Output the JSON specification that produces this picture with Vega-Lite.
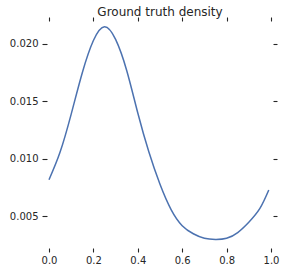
{
  "$schema": "https://vega.github.io/schema/vega-lite/v6.json",
  "autosize": {"type": "none"},
  "padding": {"left": 49, "top": 21, "right": 16, "bottom": 24},
  "width": 222,
  "height": 227,
  "background": "white",
  "config": {
    "view": {"stroke": null},
    "font": "DejaVu Sans",
    "axis": {
      "domain": false,
      "grid": false,
      "tickColor": "#262626",
      "tickWidth": 1.1,
      "tickSize": 4,
      "labelColor": "#262626",
      "labelFont": "DejaVu Sans",
      "labelFontSize": 10,
      "labelFlush": false,
      "title": null
    }
  },
  "title": {
    "text": "Ground truth density",
    "font": "DejaVu Sans",
    "fontSize": 12,
    "fontWeight": "normal",
    "color": "#262626",
    "anchor": "middle",
    "frame": "group",
    "baseline": "alphabetic",
    "offset": 4,
    "dy": 16
  },
  "data": {
    "values": [
      {"x": 0.0, "density": 0.0082},
      {"x": 0.05, "density": 0.0106},
      {"x": 0.1, "density": 0.0139},
      {"x": 0.15, "density": 0.0175},
      {"x": 0.2, "density": 0.0203},
      {"x": 0.25, "density": 0.0215},
      {"x": 0.3, "density": 0.0204},
      {"x": 0.35, "density": 0.0177},
      {"x": 0.4, "density": 0.0140},
      {"x": 0.45, "density": 0.0106},
      {"x": 0.5, "density": 0.0078},
      {"x": 0.55, "density": 0.0056},
      {"x": 0.6, "density": 0.0042},
      {"x": 0.65, "density": 0.0035},
      {"x": 0.7, "density": 0.0031},
      {"x": 0.75, "density": 0.0030},
      {"x": 0.8, "density": 0.0031},
      {"x": 0.85, "density": 0.0036},
      {"x": 0.9, "density": 0.0045},
      {"x": 0.95, "density": 0.0057},
      {"x": 0.99, "density": 0.0073}
    ]
  },
  "layer": [
    {
      "mark": {"type": "line", "color": "#4c72b0", "strokeWidth": 1.5, "interpolate": "natural"},
      "encoding": {
        "x": {
          "field": "x", "type": "quantitative",
          "scale": {"domain": [0, 1], "nice": false, "zero": false},
          "axis": {"orient": "bottom", "values": [0, 0.2, 0.4, 0.6, 0.8, 1.0], "format": ".1f", "labelPadding": 3, "offset": 0}
        },
        "y": {
          "field": "density", "type": "quantitative",
          "scale": {"domain": [0.00226, 0.0220], "nice": false, "zero": false},
          "axis": {"orient": "left", "values": [0.005, 0.01, 0.015, 0.02], "format": ".3f", "labelPadding": 4, "offset": 2, "tickSize": 5}
        }
      }
    },
    {
      "mark": {"type": "line", "opacity": 0},
      "encoding": {
        "x": {
          "field": "x", "type": "quantitative",
          "axis": {"orient": "top", "values": [0, 0.2, 0.4, 0.6, 0.8, 1.0], "labels": false, "offset": 0}
        },
        "y": {
          "field": "density", "type": "quantitative",
          "axis": {"orient": "right", "values": [0.005, 0.01, 0.015, 0.02], "labels": false, "offset": 2}
        }
      }
    }
  ],
  "resolve": {"axis": {"x": "independent", "y": "independent"}}
}
